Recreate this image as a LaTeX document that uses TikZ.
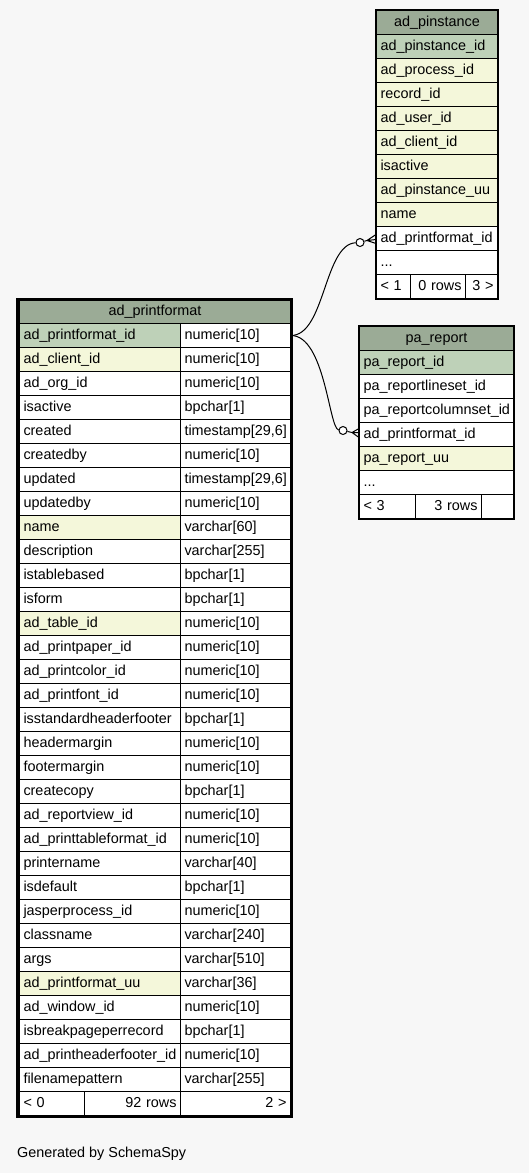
\documentclass[tikz,border=0pt]{standalone}
\usepackage{fontspec}
\setmainfont{Liberation Sans}
\definecolor{bgcol}{HTML}{F7F7F7}
\definecolor{headcol}{HTML}{9BAB96}
\definecolor{pkcol}{HTML}{BED1B8}
\definecolor{idxcol}{HTML}{F4F7DA}
\newcommand{\rowdots}{...}
\tikzset{
	tabfont/.style={font=\fontsize{14.4}{17}\selectfont},
	cell/.style={draw, line width=1pt, anchor=north west, inner xsep=4pt, inner ysep=0pt, minimum height=24pt, text height=10.5pt, text depth=3pt, fill=white, tabfont},
	lcell/.style={cell, align=left, text width=#1},
	rcell/.style={cell, align=right, text width=#1},
	hcell/.style={cell, align=center, text width=#1, fill=headcol},
	rel/.style={line width=1pt},
	opt/.style={circle, draw, line width=1pt, fill=white, minimum size=8pt, inner sep=0pt},
}
\begin{document}
\begin{tikzpicture}[x=1pt, y=-1pt]
			\fill[bgcol] (0,0) rectangle (529,1173);
			\useasboundingbox (0,0) rectangle (529,1173);
			% ad_printformat
			\node[hcell=263pt] (pf) at (19,299) {ad\_printformat};
			\foreach \nm/\typ/\clr [count=\i from 0] in {ad\_printformat\_id/numeric[10]/pkcol, ad\_client\_id/numeric[10]/idxcol, ad\_org\_id/numeric[10]/white, isactive/bpchar[1]/white, created/{timestamp[29,6]}/white, createdby/numeric[10]/white, updated/{timestamp[29,6]}/white, updatedby/numeric[10]/white, name/varchar[60]/idxcol, description/varchar[255]/white, istablebased/bpchar[1]/white, isform/bpchar[1]/white, ad\_table\_id/numeric[10]/idxcol, ad\_printpaper\_id/numeric[10]/white, ad\_printcolor\_id/numeric[10]/white, ad\_printfont\_id/numeric[10]/white, isstandardheaderfooter/bpchar[1]/white, headermargin/numeric[10]/white, footermargin/numeric[10]/white, createcopy/bpchar[1]/white, ad\_reportview\_id/numeric[10]/white, ad\_printtableformat\_id/numeric[10]/white, printername/varchar[40]/white, isdefault/bpchar[1]/white, jasperprocess\_id/numeric[10]/white, classname/varchar[240]/white, args/varchar[510]/white, ad\_printformat\_uu/varchar[36]/idxcol, ad\_window\_id/numeric[10]/white, isbreakpageperrecord/bpchar[1]/white, ad\_printheaderfooter\_id/numeric[10]/white, filenamepattern/varchar[255]/white} {
				\node[lcell=153pt, fill=\clr] (pf-\i) at (19,{323+24*\i}) {\nm};
				\node[lcell=102pt] (pft-\i) at (180,{323+24*\i}) {\typ};
			}
			\node[lcell=57pt] (pff-1) at (19,1091) {< 0};
			\node[rcell=88pt] (pff-2) at (84,1091) {92 rows};
			\node[rcell=102pt] (pff-3) at (180,1091) {2 >};
			\draw[line width=3pt] (17.5,299) rectangle (291.5,1116);
			% ad_pinstance
			\node[hcell=113pt] (pi) at (376,10) {ad\_pinstance};
			\foreach \nm/\clr [count=\i from 0] in {ad\_pinstance\_id/pkcol, ad\_process\_id/idxcol, record\_id/idxcol, ad\_user\_id/idxcol, ad\_client\_id/idxcol, isactive/idxcol, ad\_pinstance\_uu/idxcol, name/idxcol, ad\_printformat\_id/white, \rowdots/white} {
				\node[lcell=113pt, fill=\clr] (pi-\i) at (376,{34+24*\i}) {\nm};
			}
			\node[lcell=26pt] (pif-1) at (376,274) {< 1};
			\node[rcell=47pt] (pif-2) at (410,274) {0 rows};
			\node[rcell=24pt] (pif-3) at (465,274) {3 >};
			\draw[line width=1.5pt] (pi.north west) rectangle (pif-3.south east);
			% pa_report
			\node[hcell=146pt] (pr) at (359,326) {pa\_report};
			\foreach \nm/\clr [count=\i from 0] in {pa\_report\_id/pkcol, pa\_reportlineset\_id/white, pa\_reportcolumnset\_id/white, ad\_printformat\_id/white, pa\_report\_uu/idxcol, \rowdots/white} {
				\node[lcell=146pt, fill=\clr] (pr-\i) at (359,{350+24*\i}) {\nm};
			}
			\node[lcell=48pt] (prf-1) at (359,494) {< 3};
			\node[rcell=58pt] (prf-2) at (415,494) {3 rows};
			\node[lcell=24pt] (prf-3) at (481,494) {};
			\draw[line width=1.5pt] (pr.north west) rectangle (prf-3.south east);
			% relations
			\node[opt] (o1) at ([shift={(-16,4)}]pi-8.west) {};
			\coordinate (k1) at ([shift={(-9,2)}]pi-8.west);
			\draw[rel] (pft-0.east) .. controls +(34,0) and +(-36,2) .. (o1);
			\draw[rel] (o1) -- (k1) -- ([shift={(0,-4)}]pi-8.west) (k1) -- ([shift={(0,1)}]pi-8.west) (k1) -- ([shift={(0,5)}]pi-8.west);
			\node[opt] (o2) at ([shift={(-16,-4)}]pr-3.west) {};
			\coordinate (k2) at ([shift={(-7,-2)}]pr-3.west);
			\draw[rel] (pft-0.east) .. controls +(34,0) and +(-14,-2) .. (o2);
			\draw[rel] (o2) -- (k2) -- ([shift={(0,-6)}]pr-3.west) (k2) -- ([shift={(0,-2)}]pr-3.west) (k2) -- ([shift={(0,3)}]pr-3.west);
			\node[anchor=base west, inner sep=0pt, tabfont] (gen) at (17,1157) {Generated by SchemaSpy};
		\end{tikzpicture}
\end{document}
